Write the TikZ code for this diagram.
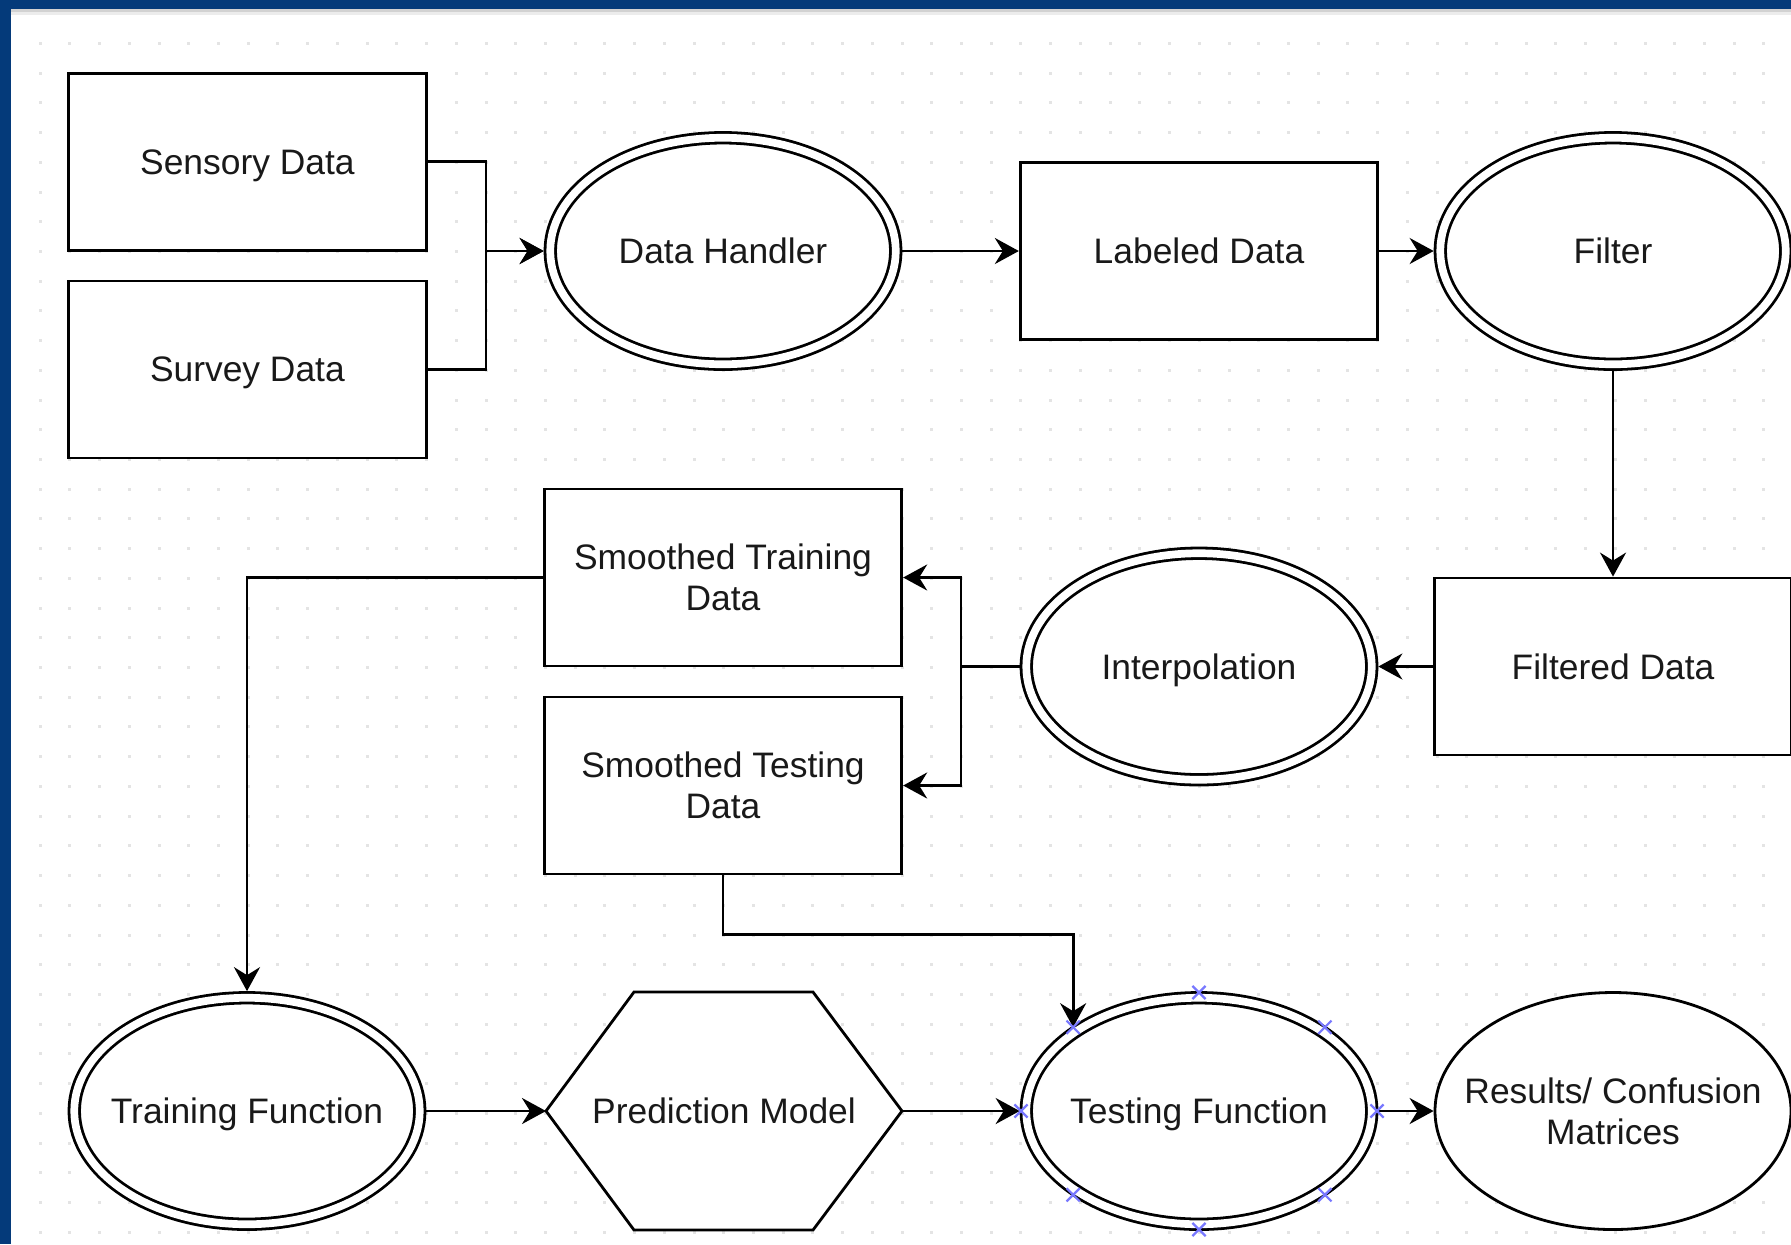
\documentclass[tikz,border=0pt]{standalone}
\usepackage{fontspec}
\setmainfont{Liberation Sans}
\usetikzlibrary{arrows.meta,shapes.geometric,calc}
\definecolor{band}{RGB}{4,58,122}
\definecolor{xmarkc}{RGB}{120,120,255}
\definecolor{dotc}{RGB}{228,228,228}
\pgfdeclarelayer{dotsl}
\pgfdeclarelayer{hexl}
\pgfsetlayers{dotsl,hexl,main}
\begin{document}
\begin{tikzpicture}[x=0.5pt,y=-0.5pt,
  every node/.style={font=\fontsize{17.7}{20.5}\selectfont, text=black!90, align=center, text depth=0pt},
  box/.style={draw, rectangle, line width=1.4pt, fill=white, minimum width=178.75pt, minimum height=88.5pt, inner sep=0pt},
  dell/.style={draw, ellipse, line width=1.4pt, double, double distance=3.85pt, fill=white, minimum width=172.75pt, minimum height=113.25pt, inner xsep=-70pt, inner ysep=-12pt, outer sep=3.3pt},
  sell/.style={draw, ellipse, line width=1.4pt, fill=white, minimum width=178pt, minimum height=118.5pt, inner xsep=-70pt, inner ysep=-20pt, outer sep=0.7pt},
  hexn/.style={rectangle, draw=none, minimum width=178pt, minimum height=119pt, inner sep=0pt, outer sep=0pt},
  conn/.style={line width=1.4pt, -{Stealth[length=12pt,width=13pt,inset=4pt]}},
  plain/.style={line width=1.4pt},
  xmk/.style={draw=xmarkc, line width=1.1pt}
]
\useasboundingbox (0,0) rectangle (1791,1244);

% background and dotted grid
\begin{pgfonlayer}{dotsl}
\fill[white] (0,0) rectangle (1791,1244);
\foreach \i in {0,...,59}{
  \foreach \j in {0,...,40}{
    \fill[dotc] ({40.2+\i*29.72},{43.4+\j*29.72}) ++(-0.75pt,-0.75pt) rectangle ++(1.5pt,1.5pt);
  }
}
\end{pgfonlayer}

% nodes
\node[box] (sens) at (247.4,161.7) {Sensory Data};
\node[box] (surv) at (247.4,369.5) {Survey Data};
\node[dell] (dh) at (723,251) {Data Handler};
\node[box] (ld) at (1199,251) {Labeled Data};
\node[dell] (fi) at (1613,251) {Filter};
\node[box] (fd) at (1613,666.5) {Filtered Data};
\node[dell] (ip) at (1199,666.5) {Interpolation};
\node[box] (st) at (723,577.5) {Smoothed Training\\Data};
\node[box] (se) at (723,785.5) {Smoothed Testing\\Data};
\node[dell] (tr) at (247,1111) {Training Function};
\node[hexn] (pm) at (724,1111) {Prediction Model};
\node[dell] (tf) at (1199,1111) {Testing Function};
\node[sell] (rs) at (1613,1111) {Results/ Confusion\\Matrices};

\begin{pgfonlayer}{hexl}
\draw[plain, fill=white, line join=miter] (pm.west) -- ($(pm.north west)+(88,0)$) -- ($(pm.north east)+(-89,0)$) -- (pm.east) -- ($(pm.south east)+(-89,0)$) -- ($(pm.south west)+(88,0)$) -- cycle;
\end{pgfonlayer}

% junction coordinates
\coordinate (j1) at (486,251);
\coordinate (j2) at (961,666.5);
\coordinate (tfin) at ($(tf.center)+(225:178 and 118.5)$);

% connectors
\draw[conn] (sens.east) -| (j1) -- (dh.west);
\draw[conn] (surv.east) -| (j1) -- (dh.west);
\draw[conn] (dh.east) -- (ld.west);
\draw[conn] (ld.east) -- (fi.west);
\draw[conn] (fi.south) -- (fd.north);
\draw[conn] (fd.west) -- (ip.east);
\draw[plain] (ip.west) -- (j2);
\draw[conn] (j2) |- (st.east);
\draw[conn] (j2) |- (se.east);
\draw[conn] (st.west) -| (tr.north);
\draw[conn] (se.south) -- ++(0,59) -| (tfin);
\draw[conn] (tr.east) -- (pm.west);
\draw[conn] (pm.east) -- (tf.west);
\draw[conn] (tf.east) -- (rs.west);

% selection markers on Testing Function
\foreach \a in {0,45,...,315}{
  \draw[xmk] ($(tf.center)+(\a:178 and 118.5)$) +(-3.3pt,-3.3pt) -- +(3.3pt,3.3pt) +(-3.3pt,3.3pt) -- +(3.3pt,-3.3pt);
}

% frame
\fill[gray!35] (11,9) rectangle (1791,12);
\fill[gray!15] (11,12) rectangle (1791,15);
\fill[band] (0,0) rectangle (1791,9);
\fill[band] (0,0) rectangle (11,1244);
\end{tikzpicture}
\end{document}
